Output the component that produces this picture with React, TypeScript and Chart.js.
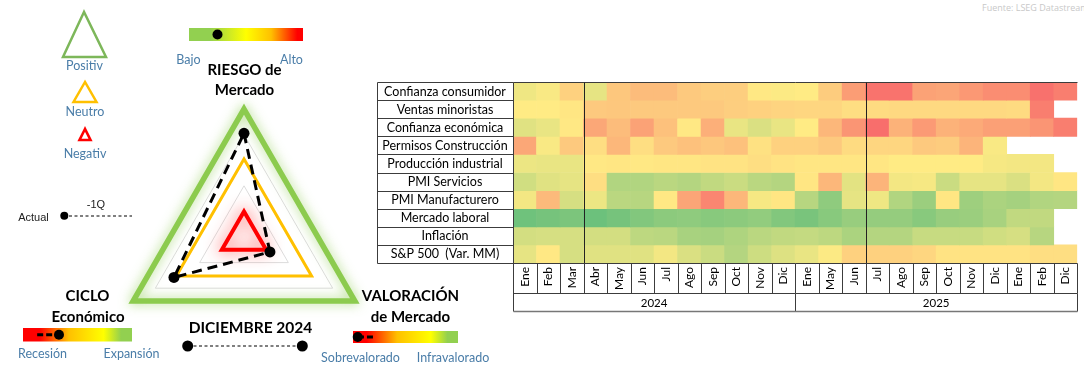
import React, { useEffect, useRef } from 'react';
import { Chart, registerables } from 'chart.js';
Chart.register(...registerables);

// ---------------- Heatmap data ----------------
const rowLabels = [
  'Confianza consumidor',
  'Ventas minoristas',
  'Confianza económica',
  'Permisos Construcción',
  'Producción industrial',
  'PMI Servicios',
  'PMI Manufacturero',
  'Mercado laboral',
  'Inflación',
  'S&P 500  (Var. MM)',
];
const monthLabels = ['Ene', 'Feb', 'Mar', 'Abr', 'May', 'Jun', 'Jul', 'Ago', 'Sep', 'Oct', 'Nov', 'Dic',
  'Ene', 'May', 'Jun', 'Jul', 'Ago', 'Sep', 'Oct', 'Nov', 'Dic', 'Ene', 'Feb', 'Dic'];
const yearLabels = ['2024', '2025'];
const dividerColumns = [3, 15];

// score 0 = red, 50 = yellow, 100 = green ; null = no data
const confianzaConsumidor = [55, 52, 40, 58, 36, 32, 32, 37, 39, 39, 49, 51, 50, 38, 20, 4, 4, 22, 23, 18, 14, 14, 3, 8];
const ventasMinoristas = [50, 50, 48, 37, 36, 37, 37, 37, 37, 39, 40, 41, 42, 42, 45, 44, 43, 43, 43, 43, 43, 44, 8, null];
const confianzaEconomica = [60, 57, 49, 24, 32, 22, 34, 49, 27, 57, 62, 57, 50, 30, 17, 2, 28, 19, 28, 25, 21, 21, 17, 8];
const permisosConstruccion = [24, 52, 37, 45, 30, 45, 37, 34, 36, 34, 46, 40, 40, 37, 44, 42, 42, 37, 38, 29, 52, null, null, null];
const produccionIndustrial = [56, 57, 57, 49, 48, 49, 48, 48, 47, 47, 45, 47, 48, 48, 48, 48, 50, 50, 50, 50, 53, 54, 54, null];
const pmiServicios = [65, 60, 58, 45, 75, 75, 72, 74, 70, 67, 72, 74, 48, 30, 59, 29, 54, 53, 67, 58, 58, 62, 54, 48];
const pmiManufacturero = [54, 31, 63, 56, 72, 73, 49, 23, 11, 30, 53, 48, 73, 86, 58, 55, 75, 82, 48, 81, 77, 79, 75, 74];
const mercadoLaboral = [96, 94, 92, 97, 94, 90, 87, 86, 88, 87, 85, 90, 93, 88, 83, 84, 84, 88, 83, 82, 78, 70, 70, null];
const inflacion = [64, 63, 63, 64, 64, 71, 72, 78, 79, 76, 72, 70, 69, 71, 77, 74, 74, 68, 68, 68, 65, 63, 73, null];
const sp500 = [58, 49, 63, 60, 60, 60, 54, 62, 67, 74, 66, 61, 57, 51, 40, 40, 40, 42, 47, 47, 47, 47, 45, 45];

const heatRows = [confianzaConsumidor, ventasMinoristas, confianzaEconomica, permisosConstruccion,
  produccionIndustrial, pmiServicios, pmiManufacturero, mercadoLaboral, inflacion, sp500];

// ---------------- Radar (triangle) data ----------------
const radarAxes = ['RIESGO de Mercado', 'VALORACIÓN de Mercado', 'CICLO Económico'];
const actualValues = [4.05, 1.17, 3.16];
const levelNegativ = [1, 1, 1];
const levelNeutro = [3.05, 3.05, 3.05];
const levelPositiv = [5, 5, 5];

// ---------------- Gauge data (0..1 along each bar) ----------------
const gaugeActual = [0.25, 0.33, 0.045];
const gaugePrev = [0.25, 0.13, 0.19];

const RED = [248, 105, 107];
const YEL = [255, 235, 132];
const GRN = [99, 190, 123];
function heatColor(v: number | null) {
  if (v === null || v === undefined) return 'rgba(0,0,0,0)';
  const t = Math.max(0, Math.min(1, v / 100));
  let a: number[], b: number[], f: number;
  if (t < 0.5) { a = RED; b = YEL; f = t / 0.5; } else { a = YEL; b = GRN; f = (t - 0.5) / 0.5; }
  const c = a.map((x, i) => Math.round(x + (b[i] - x) * f));
  return `rgb(${c[0]},${c[1]},${c[2]})`;
}

const LABEL_W = 136;

const tablePlugin = {
  id: 'tableGrid',
  afterDraw(chart: any) {
    const { ctx, chartArea: ca, scales } = chart;
    const x = scales.x, y = scales.y, x2 = scales.x2;
    const L = ca.left - LABEL_W;
    const px = (v: number) => Math.round(v) + 0.5;
    const line = (x1: number, y1: number, x2_: number, y2: number) => {
      ctx.beginPath(); ctx.moveTo(px(x1), px(y1)); ctx.lineTo(px(x2_), px(y2)); ctx.stroke();
    };
    ctx.save();
    ctx.strokeStyle = '#3c3c3c';
    ctx.lineWidth = 1;
    // label column
    for (let r = 0; r <= rowLabels.length; r++) {
      const yy = y.getPixelForValue(r);
      line(L, yy, ca.left, yy);
    }
    line(L, ca.top, L, ca.bottom);
    line(ca.left, ca.top, ca.left, x2.bottom);
    line(ca.left, ca.top, ca.right, ca.top);
    // dividers in heat area
    ctx.strokeStyle = '#222';
    dividerColumns.forEach((c) => {
      const xx = x.getPixelForValue(c - 0.5);
      line(xx, ca.top, xx, ca.bottom);
    });
    ctx.strokeStyle = '#3c3c3c';
    // month row
    line(ca.left, x.top, ca.right, x.top);
    for (let i = 0; i <= monthLabels.length; i++) {
      const xx = x.getPixelForValue(i - 0.5);
      line(xx, x.top, xx, x.bottom);
    }
    line(ca.left, x.bottom, ca.right, x.bottom);
    // year row
    line(ca.right, x2.top, ca.right, x2.bottom);
    const mid = x.getPixelForValue(11.5);
    line(mid, x2.top, mid, x2.bottom);
    ctx.strokeStyle = '#777';
    ctx.lineWidth = 1.5;
    line(ca.left, x2.bottom, ca.right, x2.bottom);
    // row labels
    ctx.fillStyle = '#000';
    ctx.font = '12.5px Lato';
    ctx.textAlign = 'center';
    ctx.textBaseline = 'middle';
    rowLabels.forEach((lab, r) => {
      ctx.fillText(lab, (L + ca.left) / 2, y.getPixelForValue(r + 0.5) + 0.5);
    });
    ctx.restore();
  },
};

const glowPlugin = {
  id: 'glow',
  beforeDatasetDraw(chart: any, args: any) {
    const ds = chart.data.datasets[args.index];
    if (ds.glow) {
      chart.ctx.save();
      chart.ctx.shadowColor = ds.glow;
      chart.ctx.shadowBlur = ds.glowBlur;
    }
  },
  afterDatasetDraw(chart: any, args: any) {
    const ds = chart.data.datasets[args.index];
    if (ds.glow) chart.ctx.restore();
  },
};

const BLUE = '#4A7DA8';

function T(props: { x: number; y: number; size?: number; color?: string; bold?: boolean; family?: string; children: any }) {
  const { x, y, size = 12, color = '#000', bold = false, family = 'Lato', children } = props;
  return (
    <div style={{
      position: 'absolute', left: x, top: y, transform: 'translate(-50%,-50%)',
      fontSize: size, fontFamily: family, fontWeight: bold ? 700 : 400, color,
      whiteSpace: 'pre', lineHeight: 1,
    }}>{children}</div>
  );
}

const gaugeBoxes = [
  { x: 189, y: 28, w: 114, h: 13, id: 'gR', stops: [['#92D050', 0], ['#92D050', 0.18], ['#FFFF00', 0.5], ['#FFC000', 0.72], ['#FF0000', 0.95]] },
  { x: 23, y: 328, w: 109, h: 13.5, id: 'gC', stops: [['#FF0000', 0.05], ['#FF0000', 0.15], ['#FFC000', 0.42], ['#FFFF00', 0.74], ['#92D050', 0.9]] },
  { x: 353, y: 331, w: 105, h: 12, id: 'gV', stops: [['#FF0000', 0.05], ['#FF0000', 0.13], ['#FFC000', 0.42], ['#FFFF00', 0.74], ['#92D050', 0.9]] },
];

export default function App() {
  const heatRef = useRef<HTMLCanvasElement>(null);
  const radarRef = useRef<HTMLCanvasElement>(null);

  useEffect(() => {
    const heat = new Chart(heatRef.current as HTMLCanvasElement, {
      type: 'bar',
      data: {
        labels: monthLabels,
        datasets: heatRows.map((vals, r) => ({
          label: rowLabels[r],
          data: vals.map((v) => (v === null ? null : [r, r + 1])),
          backgroundColor: vals.map(heatColor),
          borderWidth: 0,
          barPercentage: 1,
          categoryPercentage: 1,
          grouped: false,
          xAxisID: 'x',
          yAxisID: 'y',
        })) as any,
      },
      options: {
        responsive: false,
        animation: false,
        events: [],
        layout: { padding: { left: 0, right: 5, top: 4, bottom: 4 } },
        plugins: { legend: { display: false }, tooltip: { enabled: false } },
        scales: {
          x: {
            type: 'category',
            position: 'bottom',
            offset: true,
            grid: { display: false, drawTicks: false },
            border: { display: false },
            ticks: { autoSkip: false, minRotation: 90, maxRotation: 90, padding: 4, color: '#000', font: { family: 'Lato', size: 12 } },
            afterFit: (s: any) => { s.height = 30; },
            weight: 0,
          },
          x2: {
            type: 'category',
            labels: yearLabels,
            position: 'bottom',
            offset: true,
            grid: { display: false, drawTicks: false },
            border: { display: false },
            ticks: { maxRotation: 0, padding: 3, color: '#000', font: { family: 'Lato', size: 11.5 } },
            afterFit: (s: any) => { s.height = 18; },
            weight: 1,
          },
          y: {
            type: 'linear',
            min: 0,
            max: rowLabels.length,
            reverse: true,
            grid: { display: false, drawTicks: false },
            border: { display: false },
            ticks: { display: false },
            afterFit: (s: any) => { s.width = LABEL_W + 1; },
          },
        } as any,
      },
      plugins: [tablePlugin],
    });

    const radar = new Chart(radarRef.current as HTMLCanvasElement, {
      type: 'radar',
      data: {
        labels: radarAxes,
        datasets: [
          {
            label: 'Actual',
            data: actualValues,
            borderColor: '#000',
            borderWidth: 3,
            borderDash: [10, 6],
            pointRadius: 5.5,
            pointBackgroundColor: '#000',
            pointBorderWidth: 0,
            fill: false,
            clip: false,
          },
          {
            label: 'Negativ',
            data: levelNegativ,
            borderColor: '#FF0000',
            borderWidth: 4,
            pointRadius: 0,
            fill: false,
            clip: false,
            glow: 'rgba(255,40,40,0.85)',
            glowBlur: 16,
          },
          {
            label: 'Neutro',
            data: levelNeutro,
            borderColor: '#FFC000',
            borderWidth: 3,
            pointRadius: 0,
            fill: false,
            clip: false,
          },
          {
            label: 'Positiv',
            data: levelPositiv,
            borderColor: '#8CCB4E',
            borderWidth: 5.5,
            pointRadius: 0,
            fill: false,
            clip: false,
            glow: 'rgba(140,203,78,0.7)',
            glowBlur: 12,
          },
        ] as any,
      },
      options: {
        responsive: false,
        animation: false,
        events: [],
        layout: { padding: 20 },
        elements: { line: { tension: 0, borderJoinStyle: 'miter' } },
        plugins: { legend: { display: false }, tooltip: { enabled: false } },
        scales: {
          r: {
            min: 0,
            max: 5,
            ticks: { display: false, stepSize: 1 },
            grid: { color: '#DCDCDC', lineWidth: 1 },
            angleLines: { display: false },
            pointLabels: { display: false },
          },
        },
      },
      plugins: [glowPlugin],
    });

    return () => { heat.destroy(); radar.destroy(); };
  }, []);

  return (
    <div style={{ position: 'absolute', left: 0, top: 0, width: 1084, height: 367, overflow: 'hidden', background: '#fff' }}>
      <canvas ref={radarRef} width={296} height={296} style={{ position: 'absolute', left: 96, top: 89 }} />
      <canvas ref={heatRef} width={708} height={237} style={{ position: 'absolute', left: 376, top: 78 }} />

      <svg width={520} height={367} style={{ position: 'absolute', left: 0, top: 0 }}>
        <defs>
          {gaugeBoxes.map((g) => (
            <linearGradient key={g.id} id={g.id} x1="0" y1="0" x2="1" y2="0">
              {g.stops.map((s, i) => (
                <stop key={i} offset={String(s[1])} stopColor={String(s[0])} />
              ))}
            </linearGradient>
          ))}
        </defs>
        {/* legend triangles */}
        <polygon points="84,12 63,57 106,57" fill="none" stroke="#7DB75A" strokeWidth={2.5} />
        <polygon points="85,82 73.5,102 96.5,102" fill="none" stroke="#FFC000" strokeWidth={2.5} />
        <polygon points="85,129 79.5,140 90.5,140" fill="none" stroke="#FF0000" strokeWidth={2.6} />
        {/* Actual / -1Q legend */}
        <circle cx={64.3} cy={215.7} r={4} fill="#000" />
        <line x1={69} y1={216} x2={132} y2={216} stroke="#000" strokeWidth={1.1} strokeDasharray="3 2.5" />
        {/* timeline */}
        <line x1={188} y1={346} x2={302} y2={346} stroke="#000" strokeWidth={1.1} strokeDasharray="3 2.5" />
        <circle cx={187.7} cy={346} r={5.5} fill="#000" />
        <circle cx={302.3} cy={346} r={5.5} fill="#000" />
        {/* gauges */}
        {gaugeBoxes.map((g, i) => {
          const ax = g.x + gaugeActual[i] * g.w;
          const pxx = g.x + gaugePrev[i] * g.w;
          const cy = g.y + g.h / 2;
          return (
            <g key={g.id}>
              <rect x={g.x} y={g.y} width={g.w} height={g.h} fill={`url(#${g.id})`} />
              {Math.abs(ax - pxx) > 1 && (
                <line x1={pxx} y1={cy} x2={ax} y2={cy} stroke="#000" strokeWidth={3} strokeDasharray="6 3" />
              )}
              <circle cx={ax} cy={cy} r={5} fill="#000" />
            </g>
          );
        })}
      </svg>

      {/* legend texts */}
      <T x={84.5} y={66} size={12.5} color={BLUE}>Positiv</T>
      <T x={85} y={112} size={12.5} color={BLUE}>Neutro</T>
      <T x={85} y={154} size={12.5} color={BLUE}>Negativ</T>
      <T x={33.5} y={217} size={11} color="#222" family="Liberation Sans">Actual</T>
      <T x={96} y={204} size={11} color="#222" family="Liberation Sans">-1Q</T>

      {/* gauge texts */}
      <T x={188.5} y={60} size={12.5} color={BLUE}>Bajo</T>
      <T x={291.5} y={60} size={12.5} color={BLUE}>Alto</T>
      <T x={42.5} y={354} size={12.5} color={BLUE}>Recesión</T>
      <T x={131.5} y={354} size={12.5} color={BLUE}>Expansión</T>
      <T x={360.5} y={358} size={12.5} color={BLUE}>Sobrevalorado</T>
      <T x={453} y={358} size={12.5} color={BLUE}>Infravalorado</T>

      {/* axis titles */}
      <T x={244.5} y={69} size={15} bold>RIESGO de</T>
      <T x={244.5} y={89} size={15} bold>Mercado</T>
      <T x={87.5} y={295} size={15} bold>CICLO</T>
      <T x={88} y={316} size={15} bold>Económico</T>
      <T x={410.5} y={295} size={15} bold>VALORACIÓN</T>
      <T x={410.5} y={316} size={15} bold>de Mercado</T>
      <T x={250.5} y={328} size={15.5} bold>DICIEMBRE 2024</T>

      <div style={{ position: 'absolute', left: 982, top: 1, fontSize: 9, fontFamily: 'Open Sans', color: '#C8C8C8', whiteSpace: 'nowrap' }}>
        Fuente: LSEG Datastream
      </div>
    </div>
  );
}
